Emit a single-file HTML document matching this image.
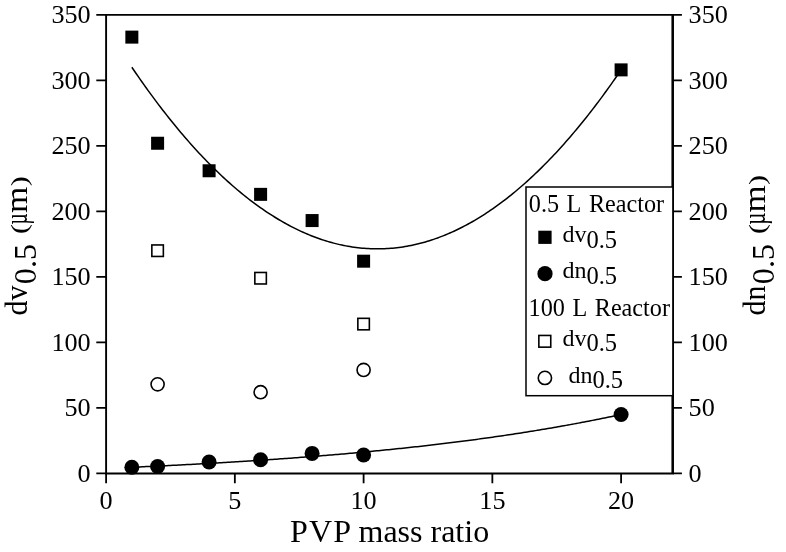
<!DOCTYPE html>
<html><head><meta charset="utf-8"><title>PVP mass ratio</title>
<style>
html,body{margin:0;padding:0;background:#fff;}
body{width:786px;height:552px;overflow:hidden;}
svg{display:block;}
text{font-family:"Liberation Serif","Times New Roman",serif;fill:#000;font-kerning:none;}
.tk{font-size:26.2px;}
.lg{font-size:24.2px;word-spacing:1.5px;}
.ls{font-size:24px;}
.lb{font-size:24.5px;}
</style></head><body>
<svg width="786" height="552" viewBox="0 0 786 552">
<rect width="786" height="552" fill="#fff"/>

<polyline points="131.85,67.25 133.89,70.26 135.93,73.24 137.97,76.19 140.00,79.12 142.04,82.02 144.08,84.90 146.12,87.75 148.16,90.58 150.20,93.38 152.24,96.16 154.27,98.91 156.31,101.64 158.35,104.34 160.39,107.02 162.43,109.67 164.47,112.30 166.51,114.90 168.54,117.48 170.58,120.03 172.62,122.56 174.66,125.06 176.70,127.54 178.74,129.99 180.77,132.42 182.81,134.82 184.85,137.20 186.89,139.55 188.93,141.88 190.97,144.18 193.01,146.46 195.04,148.71 197.08,150.94 199.12,153.14 201.16,155.32 203.20,157.47 205.24,159.60 207.28,161.70 209.31,163.77 211.35,165.83 213.39,167.85 215.43,169.85 217.47,171.83 219.51,173.78 221.55,175.71 223.58,177.61 225.62,179.49 227.66,181.34 229.70,183.16 231.74,184.97 233.78,186.74 235.82,188.49 237.85,190.22 239.89,191.92 241.93,193.60 243.97,195.25 246.01,196.87 248.05,198.48 250.09,200.05 252.12,201.60 254.16,203.13 256.20,204.63 258.24,206.10 260.28,207.56 262.32,208.98 264.36,210.38 266.39,211.76 268.43,213.11 270.47,214.43 272.51,215.73 274.55,217.01 276.59,218.26 278.62,219.49 280.66,220.69 282.70,221.86 284.74,223.01 286.78,224.14 288.82,225.24 290.86,226.31 292.89,227.36 294.93,228.39 296.97,229.39 299.01,230.36 301.05,231.31 303.09,232.24 305.13,233.14 307.16,234.01 309.20,234.86 311.24,235.69 313.28,236.49 315.32,237.26 317.36,238.01 319.40,238.74 321.43,239.44 323.47,240.11 325.51,240.76 327.55,241.39 329.59,241.98 331.63,242.56 333.67,243.11 335.70,243.63 337.74,244.13 339.78,244.61 341.82,245.06 343.86,245.48 345.90,245.88 347.94,246.25 349.97,246.60 352.01,246.93 354.05,247.23 356.09,247.50 358.13,247.75 360.17,247.97 362.21,248.17 364.24,248.35 366.28,248.49 368.32,248.62 370.36,248.72 372.40,248.79 374.44,248.84 376.48,248.86 378.51,248.86 380.55,248.83 382.59,248.78 384.63,248.71 386.67,248.60 388.71,248.48 390.74,248.33 392.78,248.15 394.82,247.95 396.86,247.72 398.90,247.47 400.94,247.19 402.98,246.89 405.01,246.56 407.05,246.21 409.09,245.83 411.13,245.43 413.17,245.01 415.21,244.55 417.25,244.08 419.28,243.57 421.32,243.05 423.36,242.49 425.40,241.92 427.44,241.31 429.48,240.69 431.52,240.03 433.55,239.36 435.59,238.65 437.63,237.93 439.67,237.17 441.71,236.40 443.75,235.59 445.79,234.77 447.82,233.91 449.86,233.04 451.90,232.13 453.94,231.20 455.98,230.25 458.02,229.27 460.06,228.27 462.09,227.24 464.13,226.19 466.17,225.11 468.21,224.01 470.25,222.88 472.29,221.73 474.33,220.55 476.36,219.35 478.40,218.12 480.44,216.86 482.48,215.59 484.52,214.28 486.56,212.95 488.59,211.60 490.63,210.22 492.67,208.82 494.71,207.39 496.75,205.94 498.79,204.46 500.83,202.95 502.86,201.42 504.90,199.87 506.94,198.29 508.98,196.69 511.02,195.06 513.06,193.40 515.10,191.73 517.13,190.02 519.17,188.29 521.21,186.54 523.25,184.76 525.29,182.95 527.33,181.13 529.37,179.27 531.40,177.39 533.44,175.49 535.48,173.56 537.52,171.60 539.56,169.62 541.60,167.62 543.64,165.59 545.67,163.53 547.71,161.46 549.75,159.35 551.79,157.22 553.83,155.07 555.87,152.89 557.91,150.68 559.94,148.45 561.98,146.20 564.02,143.92 566.06,141.61 568.10,139.28 570.14,136.93 572.18,134.55 574.21,132.14 576.25,129.71 578.29,127.26 580.33,124.78 582.37,122.27 584.41,119.74 586.44,117.18 588.48,114.60 590.52,112.00 592.56,109.37 594.60,106.71 596.64,104.03 598.68,101.33 600.71,98.60 602.75,95.84 604.79,93.06 606.83,90.25 608.87,87.42 610.91,84.57 612.95,81.69 614.98,78.78 617.02,75.85 619.06,72.89 621.10,69.91" fill="none" stroke="#000" stroke-width="1.5"/>
<polyline points="131.85,467.25 133.89,467.16 135.93,467.07 137.97,466.98 140.00,466.88 142.04,466.79 144.08,466.70 146.12,466.61 148.16,466.51 150.20,466.42 152.24,466.32 154.27,466.23 156.31,466.13 158.35,466.04 160.39,465.94 162.43,465.84 164.47,465.74 166.51,465.64 168.54,465.54 170.58,465.44 172.62,465.34 174.66,465.24 176.70,465.13 178.74,465.03 180.77,464.93 182.81,464.82 184.85,464.72 186.89,464.61 188.93,464.50 190.97,464.39 193.01,464.29 195.04,464.18 197.08,464.07 199.12,463.96 201.16,463.84 203.20,463.73 205.24,463.62 207.28,463.51 209.31,463.39 211.35,463.28 213.39,463.16 215.43,463.04 217.47,462.93 219.51,462.81 221.55,462.69 223.58,462.57 225.62,462.45 227.66,462.33 229.70,462.20 231.74,462.08 233.78,461.96 235.82,461.83 237.85,461.71 239.89,461.58 241.93,461.45 243.97,461.32 246.01,461.20 248.05,461.07 250.09,460.93 252.12,460.80 254.16,460.67 256.20,460.54 258.24,460.40 260.28,460.27 262.32,460.13 264.36,460.00 266.39,459.86 268.43,459.72 270.47,459.58 272.51,459.44 274.55,459.30 276.59,459.15 278.62,459.01 280.66,458.87 282.70,458.72 284.74,458.57 286.78,458.43 288.82,458.28 290.86,458.13 292.89,457.98 294.93,457.83 296.97,457.68 299.01,457.52 301.05,457.37 303.09,457.21 305.13,457.06 307.16,456.90 309.20,456.74 311.24,456.58 313.28,456.42 315.32,456.26 317.36,456.10 319.40,455.93 321.43,455.77 323.47,455.60 325.51,455.43 327.55,455.26 329.59,455.10 331.63,454.92 333.67,454.75 335.70,454.58 337.74,454.41 339.78,454.23 341.82,454.05 343.86,453.88 345.90,453.70 347.94,453.52 349.97,453.34 352.01,453.16 354.05,452.97 356.09,452.79 358.13,452.60 360.17,452.41 362.21,452.23 364.24,452.04 366.28,451.85 368.32,451.65 370.36,451.46 372.40,451.26 374.44,451.07 376.48,450.87 378.51,450.67 380.55,450.47 382.59,450.27 384.63,450.07 386.67,449.86 388.71,449.66 390.74,449.45 392.78,449.24 394.82,449.03 396.86,448.82 398.90,448.61 400.94,448.40 402.98,448.18 405.01,447.96 407.05,447.75 409.09,447.53 411.13,447.31 413.17,447.08 415.21,446.86 417.25,446.63 419.28,446.41 421.32,446.18 423.36,445.95 425.40,445.72 427.44,445.48 429.48,445.25 431.52,445.01 433.55,444.77 435.59,444.54 437.63,444.29 439.67,444.05 441.71,443.81 443.75,443.56 445.79,443.31 447.82,443.07 449.86,442.81 451.90,442.56 453.94,442.31 455.98,442.05 458.02,441.79 460.06,441.53 462.09,441.27 464.13,441.01 466.17,440.75 468.21,440.48 470.25,440.21 472.29,439.94 474.33,439.67 476.36,439.40 478.40,439.12 480.44,438.84 482.48,438.57 484.52,438.29 486.56,438.00 488.59,437.72 490.63,437.43 492.67,437.14 494.71,436.85 496.75,436.56 498.79,436.27 500.83,435.97 502.86,435.67 504.90,435.37 506.94,435.07 508.98,434.77 511.02,434.46 513.06,434.15 515.10,433.84 517.13,433.53 519.17,433.21 521.21,432.90 523.25,432.58 525.29,432.26 527.33,431.93 529.37,431.61 531.40,431.28 533.44,430.95 535.48,430.62 537.52,430.29 539.56,429.95 541.60,429.61 543.64,429.27 545.67,428.93 547.71,428.58 549.75,428.24 551.79,427.89 553.83,427.54 555.87,427.18 557.91,426.82 559.94,426.46 561.98,426.10 564.02,425.74 566.06,425.37 568.10,425.00 570.14,424.63 572.18,424.26 574.21,423.88 576.25,423.50 578.29,423.12 580.33,422.74 582.37,422.35 584.41,421.96 586.44,421.57 588.48,421.18 590.52,420.78 592.56,420.38 594.60,419.98 596.64,419.57 598.68,419.17 600.71,418.76 602.75,418.34 604.79,417.93 606.83,417.51 608.87,417.09 610.91,416.66 612.95,416.24 614.98,415.81 617.02,415.37 619.06,414.94 621.10,414.50" fill="none" stroke="#000" stroke-width="1.5"/>
<path d="M106.1 14.85H672.9V473.45H106.1Z" fill="none" stroke="#000" stroke-width="1.9"/>
<path d="M672.65 14.85V473.45" fill="none" stroke="#000" stroke-width="2.4"/>
<path d="M96.3 473.45H106.1 M672.9 473.45H681.9 M96.3 407.94H106.1 M672.9 407.94H681.9 M96.3 342.42H106.1 M672.9 342.42H681.9 M96.3 276.90H106.1 M672.9 276.90H681.9 M96.3 211.39H106.1 M672.9 211.39H681.9 M96.3 145.88H106.1 M672.9 145.88H681.9 M96.3 80.36H106.1 M672.9 80.36H681.9 M96.3 14.84H106.1 M672.9 14.84H681.9 M106.10 473.45V483.25 M234.85 473.45V483.25 M363.60 473.45V483.25 M492.35 473.45V483.25 M621.10 473.45V483.25" fill="none" stroke="#000" stroke-width="1.8"/>
<text class="tk" x="90.7" y="481.6" text-anchor="end">0</text>
<text class="tk" x="688.6" y="481.6">0</text>
<text class="tk" x="90.7" y="416.0" text-anchor="end">50</text>
<text class="tk" x="688.6" y="416.0">50</text>
<text class="tk" x="90.7" y="350.5" text-anchor="end">100</text>
<text class="tk" x="688.6" y="350.5">100</text>
<text class="tk" x="90.7" y="285.0" text-anchor="end">150</text>
<text class="tk" x="688.6" y="285.0">150</text>
<text class="tk" x="90.7" y="219.5" text-anchor="end">200</text>
<text class="tk" x="688.6" y="219.5">200</text>
<text class="tk" x="90.7" y="154.0" text-anchor="end">250</text>
<text class="tk" x="688.6" y="154.0">250</text>
<text class="tk" x="90.7" y="88.5" text-anchor="end">300</text>
<text class="tk" x="688.6" y="88.5">300</text>
<text class="tk" x="90.7" y="22.9" text-anchor="end">350</text>
<text class="tk" x="688.6" y="22.9">350</text>
<text class="tk" x="106.1" y="508.6" text-anchor="middle">0</text>
<text class="tk" x="234.8" y="508.6" text-anchor="middle">5</text>
<text class="tk" x="363.6" y="508.6" text-anchor="middle">10</text>
<text class="tk" x="492.4" y="508.6" text-anchor="middle">15</text>
<text class="tk" x="621.1" y="508.6" text-anchor="middle">20</text>
<text y="542" style="font-size:32px"><tspan x="290" style="letter-spacing:1.2px">PVP</tspan><tspan x="350.5"> mass ratio</tspan></text>
<text transform="translate(27.3,315.4) rotate(-90) scale(1,1.085)" style="font-size:30px">dv</text>
<text transform="translate(36.0,284.2) rotate(-90)" style="font-size:32.2px">0.5</text>
<text transform="translate(27.3,234.1) rotate(-90) scale(1,0.8)" style="font-size:30px">(</text>
<text transform="translate(27.3,224.4) rotate(-90) scale(0.64,1.08)" style="font-size:30px">µ</text>
<text transform="translate(27.3,213.1) rotate(-90) scale(1,0.93)" style="font-size:33.7px">m</text>
<text transform="translate(27.3,186.2) rotate(-90) scale(1,0.8)" style="font-size:30px">)</text>
<text transform="translate(765.3,315.4) rotate(-90) scale(1,1.085)" style="font-size:30px">dn</text>
<text transform="translate(774.0,284.2) rotate(-90)" style="font-size:32.2px">0.5</text>
<text transform="translate(765.3,234.1) rotate(-90) scale(1,0.8)" style="font-size:30px">(</text>
<text transform="translate(765.3,224.8) rotate(-90) scale(0.70,1.08)" style="font-size:30px">µ</text>
<text transform="translate(765.3,212.5) rotate(-90) scale(1,0.9)" style="font-size:35px">m</text>
<text transform="translate(765.3,184.9) rotate(-90) scale(1,0.8)" style="font-size:30px">)</text>
<rect x="125.35" y="30.62" width="13" height="13" fill="#000"/>
<rect x="151.10" y="136.75" width="13" height="13" fill="#000"/>
<rect x="202.60" y="164.27" width="13" height="13" fill="#000"/>
<rect x="254.10" y="187.86" width="13" height="13" fill="#000"/>
<rect x="305.60" y="214.06" width="13" height="13" fill="#000"/>
<rect x="357.10" y="254.68" width="13" height="13" fill="#000"/>
<rect x="614.60" y="63.38" width="13" height="13" fill="#000"/>
<circle cx="131.85" cy="467.29" r="7.5" fill="#000"/>
<circle cx="157.60" cy="466.51" r="7.5" fill="#000"/>
<circle cx="209.10" cy="462.05" r="7.5" fill="#000"/>
<circle cx="260.60" cy="459.82" r="7.5" fill="#000"/>
<circle cx="312.10" cy="453.40" r="7.5" fill="#000"/>
<circle cx="363.60" cy="454.97" r="7.5" fill="#000"/>
<circle cx="621.10" cy="414.49" r="7.5" fill="#000"/>
<rect x="151.85" y="244.95" width="11.5" height="11.5" fill="#fff" stroke="#000" stroke-width="1.6"/>
<rect x="254.85" y="272.47" width="11.5" height="11.5" fill="#fff" stroke="#000" stroke-width="1.6"/>
<rect x="357.85" y="318.33" width="11.5" height="11.5" fill="#fff" stroke="#000" stroke-width="1.6"/>
<circle cx="157.60" cy="384.35" r="6.55" fill="#fff" stroke="#000" stroke-width="1.6"/>
<circle cx="260.60" cy="392.21" r="6.55" fill="#fff" stroke="#000" stroke-width="1.6"/>
<circle cx="363.60" cy="369.94" r="6.55" fill="#fff" stroke="#000" stroke-width="1.6"/>
<rect x="526" y="187" width="146.89999999999998" height="208.7" fill="#fff" stroke="#000" stroke-width="1.5"/>
<text class="lg" x="528.8" y="211.6">0.5 L Reactor</text>
<rect x="538.3" y="230.7" width="13.3" height="13.2" fill="#000"/>
<text class="ls" x="562.4" y="242"><tspan>dv</tspan><tspan class="lb" dx="0" dy="5.8">0.5</tspan></text>
<circle cx="545" cy="273.7" r="7.6" fill="#000"/>
<text class="ls" x="562.4" y="278.4"><tspan>dn</tspan><tspan class="lb" dx="0" dy="5.5">0.5</tspan></text>
<text class="lg" x="528.6" y="316">100 L Reactor</text>
<rect x="538.85" y="335.45" width="11.9" height="11.7" fill="#fff" stroke="#000" stroke-width="1.6"/>
<text class="ls" x="562.4" y="345.8"><tspan>dv</tspan><tspan class="lb" dx="0" dy="5.3">0.5</tspan></text>
<circle cx="544.9" cy="377.9" r="6.65" fill="#fff" stroke="#000" stroke-width="1.6"/>
<text class="ls" x="568.4" y="382.7"><tspan>dn</tspan><tspan class="lb" dx="0" dy="5.2">0.5</tspan></text>
</svg></body></html>
